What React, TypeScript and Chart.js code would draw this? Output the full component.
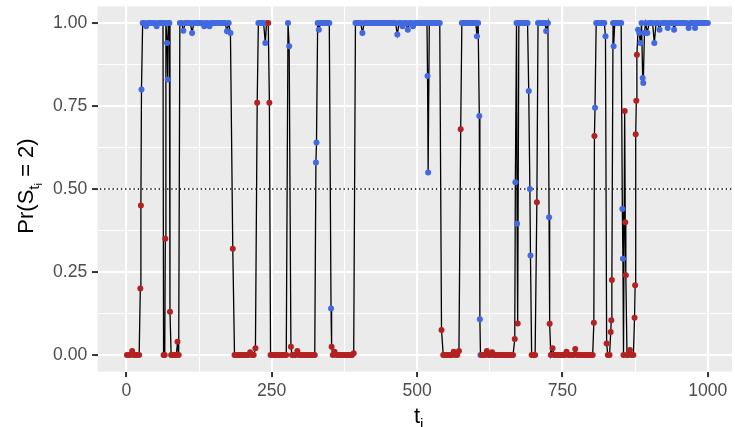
import React, { useEffect, useRef } from "react";
import { Chart, registerables } from "chart.js";
Chart.register(...registerables);

// time points t_i
const ti = [
  1,4,7,10,13,16,19,22,24,25,26,
  28,31,34,37,40,43,46,49,52,55,58,61,63,
  64,66,67,68,70,71,72,74,75,77,80,83,86,88,90,
  92,95,98,101,104,107,110,113,116,119,122,125,128,131,134,
  137,140,143,146,149,152,155,158,161,164,167,170,173,176,179,183,
  186,189,192,195,198,201,204,207,210,213,216,219,222,
  225,227,230,233,236,239,241,244,246,
  248,251,254,257,260,263,266,269,272,275,278,280,283,
  285,288,291,294,297,300,303,306,309,312,315,318,321,324,326,327,
  329,331,334,337,340,343,346,349,352,353,
  355,358,361,364,367,370,373,376,379,382,385,388,391,
  394,397,400,403,406,409,412,415,418,421,424,427,430,433,436,439,442,445,448,451,454,
  457,460,463,466,469,472,475,478,481,484,487,490,493,496,499,502,505,508,511,514,517,
  518,519,521,524,527,530,533,536,539,542,
  545,548,551,554,557,560,563,566,569,572,
  575,577,580,583,586,589,592,595,598,601,603,605,607,608,609,
  611,614,617,620,623,626,629,632,635,638,641,644,647,650,653,656,659,662,665,
  668,669,671,672,673,
  675,678,681,684,687,690,692,694,695,697,700,703,706,
  708,711,714,717,720,722,725,727,728,
  730,733,736,739,742,745,748,751,754,757,760,763,766,
  769,772,775,778,781,784,787,790,793,796,799,802,804,805,806,
  808,811,814,817,820,822,824,826,828,831,833,834,835,
  837,838,840,843,846,849,851,853,854,855,857,858,859,861,863,866,869,872,
  874,875,876,877,878,880,882,884,886,888,889,891,
  893,896,899,902,905,908,911,914,917,920,923,926,929,931,934,937,940,942,
  945,948,951,954,957,960,963,967,970,973,976,978,981,984,987,990,993,996,1000,
];

// Pr(S_ti = 2)
const prob = [
  0,0,0,0.012,0,0,0,0,0.2,0.45,0.8,
  1,1,0.99,1,1,1,1,1,0.99,1,1,1,1,
  0,0,0.35,1,0.94,0.83,1,1,0.13,0,0,0,0,0.04,0,
  1,1,0.977,1,1,1,1,0.97,1,1,1,1,1,1,0.99,
  1,1,0.99,1,1,1,1,1,1,1,1,1,0.975,1,0.97,0.32,
  0,0,0,0,0,0,0,0,0,0.008,0,0,0.02,
  0.76,1,1,1,1,0.94,1,1,0.76,
  0,0,0,0,0,0,0,0,0,0,1,0.93,0.025,
  0,0,0,0.012,0,0,0,0,0,0,0,0,0,0,0.58,0.64,
  1,0.98,1,1,1,1,1,1,0.14,0.025,
  0,0.01,0,0,0,0,0,0,0,0,0,0,0.005,
  1,1,1,1,0.97,1,1,1,1,1,1,1,1,1,1,1,1,1,1,1,1,
  1,1,1,0.965,1,1,0.99,1,1,0.98,1,1,0.99,1,1,1,1,1,1,1,1,
  0.84,0.55,1,1,1,1,1,1,1,0.075,
  0,0,0,0,0,0,0.01,0,0,0.012,
  0.68,1,1,1,1,1,1,1,1,1,0.96,1,0.72,0.108,0,
  0,0,0,0.012,0,0,0.008,0,0,0,0,0,0,0,0,0,0,0,0,
  0.048,0.52,1,0.395,0.095,
  1,1,1,1,1,1,0.795,0.5,0.3,0,0,0,0.46,
  1,1,1,1,1,0.976,1,0.415,0.094,
  0,0.02,0,0,0,0,0,0,0,0.01,0,0,0,
  0,0.018,0,0,0,0,0,0,0,0,0,0,0.097,0.66,0.745,
  1,1,1,1,1,1,0.96,0.035,0,0,0.069,0.105,0.226,
  1,0.93,1,1,1,1,1,0.44,0.29,0,0.735,0.4,0.24,0,0,0.015,0,0,
  0.112,0.21,0.665,0.766,0.904,0.98,0.97,0.94,1,0.834,0.819,0.97,
  1,0.97,1,1,1,0.94,1,1,0.98,1,1,1,1,0.985,1,1,1,0.98,
  1,1,1,1,1,1,1,0.985,1,1,1,0.985,1,1,1,1,1,1,1,
];

// true state (1 = red, 2 = blue)
const state = [
  1,1,1,1,1,1,1,1,1,1,2,
  2,2,2,2,2,2,2,2,2,2,2,2,2,
  1,1,1,2,2,2,2,2,1,1,1,1,1,1,1,
  2,2,2,2,2,2,2,2,2,2,2,2,2,2,2,
  2,2,2,2,2,2,2,2,2,2,2,2,2,2,2,1,
  1,1,1,1,1,1,1,1,1,1,1,1,1,
  1,2,2,2,2,2,2,1,1,
  1,1,1,1,1,1,1,1,1,1,2,2,1,
  1,1,1,1,1,1,1,1,1,1,1,1,1,1,2,2,
  2,2,2,2,2,2,2,2,2,1,
  1,1,1,1,1,1,1,1,1,1,1,1,1,
  2,2,2,2,2,2,2,2,2,2,2,2,2,2,2,2,2,2,2,2,2,
  2,2,2,2,2,2,2,2,2,2,2,2,2,2,2,2,2,2,2,2,2,
  2,2,2,2,2,2,2,2,2,1,
  1,1,1,1,1,1,1,1,1,1,
  1,2,2,2,2,2,2,2,2,2,2,2,2,2,2,
  1,1,1,1,1,1,1,1,1,1,1,1,1,1,1,1,1,1,1,
  1,2,2,2,1,
  2,2,2,2,2,2,2,2,2,1,1,1,1,
  2,2,2,2,2,2,2,2,1,
  1,1,1,1,1,1,1,1,1,1,1,1,1,
  1,1,1,1,1,1,1,1,1,1,1,1,1,1,2,
  2,2,2,2,2,2,2,1,1,1,1,1,1,
  2,2,2,2,2,2,2,2,2,1,1,1,1,1,1,1,1,1,
  1,1,1,1,1,2,2,2,2,2,2,2,
  2,2,2,2,2,2,2,2,2,2,2,2,2,2,2,2,2,2,
  2,2,2,2,2,2,2,2,2,2,2,2,2,2,2,2,2,2,2,
];

const xTicks = [0, 250, 500, 750, 1000];
const xMinor = [125, 375, 625, 875];
const yTicks = [0, 0.25, 0.5, 0.75, 1];
const yMinor = [0.125, 0.375, 0.625, 0.875];
const refLine = 0.5;

const RED = "#B22222";
const BLUE = "#4169E1";
const FONT = '"Liberation Sans", Arial, Helvetica, sans-serif';

type Run = { t: string; s: number; dy: number };

function drawRuns(ctx: CanvasRenderingContext2D, runs: Run[], cx: number, base: number) {
  let w = 0;
  for (const r of runs) {
    ctx.font = `${r.s}px ${FONT}`;
    w += ctx.measureText(r.t).width;
  }
  let x = cx - w / 2;
  for (const r of runs) {
    ctx.font = `${r.s}px ${FONT}`;
    ctx.fillText(r.t, x, base + r.dy);
    x += ctx.measureText(r.t).width;
  }
}

export default function App() {
  const ref = useRef<HTMLCanvasElement>(null);
  useEffect(() => {
    const pts = ti.map((t, i) => ({ x: t, y: prob[i] }));
    const colors = ti.map((_, i) => ((state[i] ?? 1) === 2 ? BLUE : RED));

    const bg = {
      id: "panelBg",
      beforeDraw(c: any) {
        const { ctx, chartArea: a } = c;
        ctx.save();
        ctx.fillStyle = "#EBEBEB";
        ctx.fillRect(a.left, a.top, a.right - a.left, a.bottom - a.top);
        ctx.restore();
      },
    };
    const titles = {
      id: "axisTitles",
      afterDraw(c: any) {
        const ctx: CanvasRenderingContext2D = c.ctx;
        const F = 22;
        ctx.save();
        ctx.fillStyle = "#000";
        ctx.textBaseline = "alphabetic";
        ctx.textAlign = "left";
        // x title
        drawRuns(ctx, [
          { t: "t", s: F, dy: 0 },
          { t: "i", s: F * 0.7, dy: F * 0.28 },
        ], (c.chartArea.left + 740) / 2, 423);
        // y title
        ctx.translate(33, 186);
        ctx.rotate(-Math.PI / 2);
        drawRuns(ctx, [
          { t: "Pr(S", s: F, dy: 0 },
          { t: "t", s: F * 0.7, dy: F * 0.28 },
          { t: "i", s: F * 0.5, dy: F * 0.42 },
          { t: " = 2)", s: F, dy: 0 },
        ], 0, 0);
        ctx.restore();
      },
    };

    const isMajorX = (v: number) => xTicks.includes(v);
    const isMajorY = (v: number) => yTicks.includes(v);

    const chart = new Chart(ref.current as HTMLCanvasElement, {
      type: "scatter",
      data: {
        datasets: [
          {
            type: "line",
            data: pts,
            borderColor: "#000",
            borderWidth: 1.3,
            pointRadius: 3,
            pointHoverRadius: 3,
            pointBackgroundColor: colors,
            pointBorderWidth: 0,
            pointBorderColor: colors,
            fill: false,
            tension: 0,
            order: 1,
          } as any,
          {
            type: "line",
            data: [
              { x: -60, y: refLine },
              { x: 1100, y: refLine },
            ],
            borderColor: "#000",
            borderWidth: 1.4,
            borderDash: [1.4, 2.8],
            pointRadius: 0,
            fill: false,
            order: 2,
          } as any,
        ],
      },
      options: {
        animation: false,
        responsive: false,
        maintainAspectRatio: false,
        events: [],
        layout: { padding: { top: 6.4, left: 0, right: 0, bottom: 0 } },
        plugins: { legend: { display: false }, tooltip: { enabled: false } },
        scales: {
          x: {
            type: "linear",
            min: -49.64,
            max: 1041.6,
            afterBuildTicks: (s: any) => {
              s.ticks = [...xTicks, ...xMinor].sort((a, b) => a - b).map((v) => ({ value: v }));
            },
            afterFit: (s: any) => {
              s.height = 55.4;
              s.paddingLeft = 0;
              s.paddingRight = 0;
            },
            ticks: {
              autoSkip: false,
              maxRotation: 0,
              minRotation: 0,
              padding: 3,
              color: "#4D4D4D",
              font: { family: FONT, size: 17.6 },
              callback: (v: any) => (isMajorX(Number(v)) ? String(v) : ""),
            },
            grid: {
              color: "#FFFFFF",
              lineWidth: (ctx: any) => (isMajorX(ctx.tick?.value) ? 2.1 : 1.05),
              tickColor: (ctx: any) => (isMajorX(ctx.tick?.value) ? "#333333" : "rgba(0,0,0,0)"),
              tickWidth: 2,
              tickLength: 5.5,
            },
            border: { display: false },
          },
          y: {
            type: "linear",
            min: -0.05,
            max: 1.05,
            afterBuildTicks: (s: any) => {
              s.ticks = [...yTicks, ...yMinor].sort((a, b) => a - b).map((v) => ({ value: v }));
            },
            afterFit: (s: any) => {
              s.width = 97.5;
              s.paddingTop = 0;
              s.paddingBottom = 0;
            },
            ticks: {
              autoSkip: false,
              padding: 4.7,
              color: "#4D4D4D",
              font: { family: FONT, size: 17.6 },
              callback: (v: any) => (isMajorY(Number(v)) ? Number(v).toFixed(2) : ""),
            },
            grid: {
              color: "#FFFFFF",
              lineWidth: (ctx: any) => (isMajorY(ctx.tick?.value) ? 2.1 : 1.05),
              tickColor: (ctx: any) => (isMajorY(ctx.tick?.value) ? "#333333" : "rgba(0,0,0,0)"),
              tickWidth: 2,
              tickLength: 5.5,
            },
            border: { display: false },
          },
        },
      } as any,
      plugins: [bg, titles],
    });
    return () => chart.destroy();
  }, []);

  return (
    <div style={{ position: "fixed", left: 0, top: 0, width: 735, height: 427, overflow: "hidden", background: "#fff" }}>
      <canvas ref={ref} width={735} height={427} style={{ display: "block" }} />
    </div>
  );
}
